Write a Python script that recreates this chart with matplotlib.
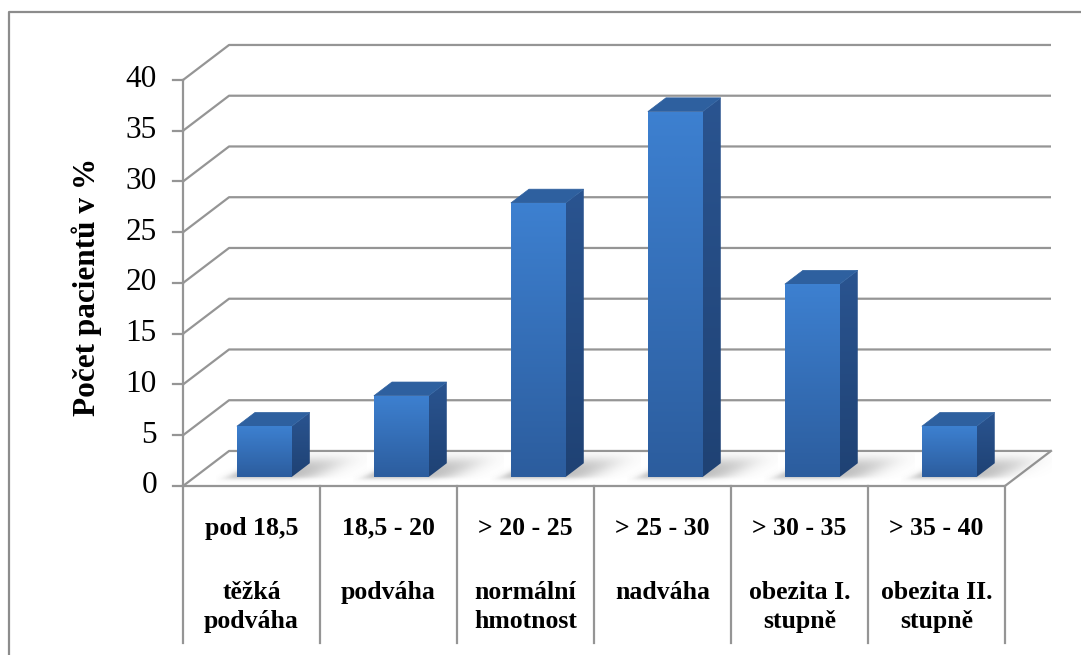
import numpy as np
import matplotlib
matplotlib.use("Agg")
import matplotlib.pyplot as plt
from matplotlib.patches import Polygon
from matplotlib.colors import LinearSegmentedColormap

# --- data -------------------------------------------------------------
ranges = ["pod 18,5", "18,5 - 20", "> 20 - 25", "> 25 - 30", "> 30 - 35", "> 35 - 40"]
groups = ["těžká\npodváha", "podváha", "normální\nhmotnost", "nadváha",
          "obezita I.\nstupně", "obezita II.\nstupně"]
percent = [5, 8, 27, 36, 19, 5]
y_ticks = [0, 5, 10, 15, 20, 25, 30, 35, 40]
y_label = "Počet pacientů v %"

# --- pseudo-3D geometry (category units / value units) ---------------
DX, DY = 0.336, 3.45          # depth offset of the back wall
BAR_D0, BAR_D1 = 0.257, 0.65  # bar front / back depth fraction
BAR_X0, BAR_W = 0.307, 0.40   # bar left offset and width inside a category
N = len(percent)
YMAX = 40

def proj(x, v, d):
    return (x + d * DX, v + d * DY)

fig = plt.figure(figsize=(10.81, 6.55), dpi=100)
ax = fig.add_axes([0, 0, 1, 1])
ax.axis("off")
XL, XR = -1.336, 6.555
YB, YT = -16.65, 47.88

grid_c = "#959595"
lw_grid = 1.6

# back wall gridlines with the left wall diagonal
for v in y_ticks:
    p0 = proj(0, v, 0)
    p1 = proj(0, v, 1)
    p2 = proj(N, v, 1)
    ax.plot([p0[0], p1[0], p2[0]], [p0[1], p1[1], p2[1]], color=grid_c,
            lw=lw_grid, solid_capstyle="butt", zorder=1)

# floor edges
f0, f1, f2 = proj(0, 0, 0), proj(N, 0, 0), proj(N, 0, 1)
ax.plot([f0[0], f1[0], f2[0]], [f0[1], f1[1], f2[1]], color=grid_c, lw=lw_grid, zorder=2)


def gradient_fill(poly_pts, c_top, c_bot, zorder):
    poly = Polygon(poly_pts, closed=True, facecolor="none", edgecolor="none")
    ax.add_patch(poly)
    xs = [p[0] for p in poly_pts]
    ys = [p[1] for p in poly_pts]
    cmap = LinearSegmentedColormap.from_list("g", [c_bot, c_top])
    grad = np.linspace(0, 1, 64).reshape(-1, 1)
    im = ax.imshow(grad, cmap=cmap, extent=[min(xs), max(xs), min(ys), max(ys)],
                   origin="lower", aspect="auto", interpolation="bilinear", zorder=zorder)
    im.set_clip_path(poly)


def soft_shadow(xl, xr, zorder):
    # blurred shadow cast on the floor behind and right of the bar base
    gx = np.linspace(xl - 0.15, xr + 0.55, 160)
    gv = np.linspace(0.0, 3.2, 60)
    X, V = np.meshgrid(gx, gv)
    base_v = BAR_D0 * DY
    t = (V - base_v) / 2.0
    shift = t * 0.28
    left = xl - 0.06 + shift
    right = xr + 0.16 + shift
    inx = 1 / (1 + np.exp(-(X - left) / 0.025)) * 1 / (1 + np.exp((X - right) / 0.07))
    inv = 1 / (1 + np.exp(-(V - base_v + 0.15) / 0.12)) * 1 / (1 + np.exp((V - base_v - 1.6) / 0.35))
    a = 0.45 * inx * inv
    rgba = np.zeros(X.shape + (4,))
    rgba[..., :3] = 0.38
    rgba[..., 3] = a
    ax.imshow(rgba, extent=[gx[0], gx[-1], gv[0], gv[-1]], origin="lower",
              aspect="auto", interpolation="bilinear", zorder=zorder)


front_top, front_bot = "#3d80d0", "#2c5d9e"
side_top, side_bot = "#2a5490", "#1f4274"
top_c = "#2e609f"

for i, val in enumerate(percent):
    xl = i + BAR_X0
    xr = xl + BAR_W
    soft_shadow(proj(xl, 0, BAR_D0)[0], proj(xr, 0, BAR_D0)[0], 3)
    front = [proj(xl, 0, BAR_D0), proj(xr, 0, BAR_D0), proj(xr, val, BAR_D0), proj(xl, val, BAR_D0)]
    side = [proj(xr, 0, BAR_D0), proj(xr, 0, BAR_D1), proj(xr, val, BAR_D1), proj(xr, val, BAR_D0)]
    top = [proj(xl, val, BAR_D0), proj(xr, val, BAR_D0), proj(xr, val, BAR_D1), proj(xl, val, BAR_D1)]
    gradient_fill(side, side_top, side_bot, 4)
    ax.add_patch(Polygon(top, closed=True, facecolor=top_c, edgecolor=top_c, lw=0.5, zorder=5))
    gradient_fill(front, front_top, front_bot, 6)

# value axis on the front-left edge
ax.plot([0, 0], [0, YMAX], color=grid_c, lw=lw_grid, zorder=7)
for v in y_ticks:
    ax.plot([-0.075, 0], [v, v], color=grid_c, lw=lw_grid, zorder=7)
    ax.text(-0.19, v, str(v), ha="right", va="center", fontsize=22.5,
            family="Liberation Serif", color="black")

# category separators under the floor
sep_bottom = -15.5
for k in range(N + 1):
    ax.plot([k, k], [0, sep_bottom], color=grid_c, lw=lw_grid, zorder=7)

# category labels
for i in range(N):
    ax.text(i + 0.5, -4.15, ranges[i], ha="center", va="center", fontsize=18.5,
            fontweight="bold", family="Liberation Serif")
    ax.text(i + 0.5, -9.4, groups[i], ha="center", va="top", fontsize=18.5,
            fontweight="bold", family="Liberation Serif", linespacing=1.3)

ax.text(-0.70, 19.6, y_label, rotation=90, ha="center", va="center", fontsize=22.5,
        fontweight="bold", family="Liberation Serif")

# outer chart frame
fx, fy = -1.27, 46.7
ax.plot([fx, fx, XR + 1], [YB - 1, fy, fy], color="#8c8c8c", lw=1.6, zorder=8)

ax.set_xlim(XL, XR)
ax.set_ylim(YB, YT)
fig.savefig("out.png", dpi=100)
